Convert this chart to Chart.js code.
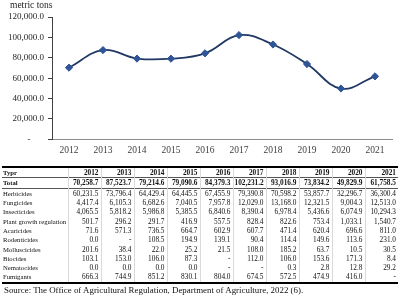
<!DOCTYPE html>
<html>
<head>
<meta charset="utf-8">
<script src="https://cdn.jsdelivr.net/npm/chart.js@4.4.1/dist/chart.umd.min.js"></script>
<style>
  body { margin: 0; width: 400px; height: 298px; background: #fff; position: relative; overflow: hidden; font-family: "Liberation Serif", "Times New Roman", serif; }
  #chartBox { position: absolute; left: 0; top: -20px; width: 400px; height: 180px; }
  #unit { position: absolute; left: 10px; top: 0; font-size: 9.5px; line-height: 11px; color: #262626; }
  #pesticides { position: absolute; left: 2px; top: 166px; width: 396px; border-collapse: collapse; table-layout: fixed; font-size: 7.3px; color: #111; }
  #pesticides td, #pesticides th { padding: 0 2px 0 1px; height: 9.3px; line-height: 9px; text-align: right; border-left: 1px solid #d9d9d9; white-space: nowrap; overflow: hidden; }
  #pesticides td:first-child, #pesticides th:first-child { text-align: left; border-left: none; font-size: 6.7px; }
  #pesticides thead tr { border-top: 2px solid #000; border-bottom: 1px solid #555; }
  #pesticides tr.total { font-weight: bold; border-bottom: 1px solid #555; }
  #pesticides tbody tr:last-child { border-bottom: 2.5px solid #000; }
  #source { position: absolute; left: 4px; top: 285px; font-size: 8.9px; line-height: 11px; color: #111; }
</style>
</head>
<body>
<div id="chartBox"><canvas id="lineChart"></canvas></div>
<div id="unit">metric tons</div>
<table id="pesticides">
  <colgroup><col style="width:66px"></colgroup>
  <thead><tr id="headRow"></tr></thead>
  <tbody id="bodyRows"></tbody>
</table>
<div id="source">Source: The Office of Agricultural Regulation, Department of Agriculture, 2022 (6).</div>

<script>
// data (metric tons), null = "-"
var years = ["2012", "2013", "2014", "2015", "2016", "2017", "2018", "2019", "2020", "2021"];
var total = [70258.7, 87523.7, 79214.6, 79090.6, 84379.3, 102231.2, 93016.9, 73834.2, 49829.9, 61758.5];
var herbicides = [60231.5, 73796.4, 64429.4, 64445.5, 67455.9, 79390.8, 70598.2, 53857.7, 32296.7, 36300.4];
var fungicides = [4417.4, 6105.3, 6682.6, 7040.5, 7957.8, 12029.0, 13168.0, 12321.5, 9004.3, 12513.0];
var insecticides = [4065.5, 5818.2, 5986.8, 5385.5, 6840.6, 8390.4, 6978.4, 5436.6, 6074.9, 10294.3];
var plantGrowth = [501.7, 296.2, 291.7, 416.9, 557.5, 828.4, 822.6, 753.4, 1033.1, 1540.7];
var acaricides = [71.6, 571.3, 736.5, 664.7, 602.9, 607.7, 471.4, 620.4, 696.6, 811.0];
var rodenticides = [0.0, null, 108.5, 194.9, 139.1, 90.4, 114.4, 149.6, 113.6, 231.0];
var molluscicides = [201.6, 38.4, 22.0, 25.2, 21.5, 108.0, 185.2, 63.7, 10.5, 30.5];
var biocides = [103.1, 153.0, 106.0, 87.3, null, 112.0, 106.0, 153.6, 171.3, 8.4];
var nematocides = [0.0, 0.0, 0.0, 0.0, null, null, 0.3, 2.8, 12.8, 29.2];
var fumigants = [666.3, 744.9, 851.2, 830.1, 804.0, 674.5, 572.5, 474.9, 416.0, null];
var yMax = 120000;
var yStep = 20000;

function fmt(v) {
  if (v == null) return "-";
  return v.toLocaleString("en-US", { minimumFractionDigits: 1, maximumFractionDigits: 1 });
}

// table
var rows = [
  ["Total", total],
  ["Herbicides", herbicides],
  ["Fungicides", fungicides],
  ["Insecticides", insecticides],
  ["Plant growth regulation", plantGrowth],
  ["Acaricides", acaricides],
  ["Rodenticides", rodenticides],
  ["Molluscicides", molluscicides],
  ["Biocides", biocides],
  ["Nematocides", nematocides],
  ["Fumigants", fumigants]
];

var head = "<th>Typr</th>";
years.forEach(y => head += `<th>${y}</th>`);
document.getElementById("headRow").innerHTML = head;

var body = "";
rows.forEach((r, i) => {
  body += `<tr${i == 0 ? ' class="total"' : ''}><td>${r[0]}</td>`;
  r[1].forEach(v => body += `<td>${fmt(v)}</td>`);
  body += "</tr>";
});
document.getElementById("bodyRows").innerHTML = body;

// chart (canvas starts 20px above the page so the plot keeps clear of the canvas edge)
var ctxL = document.getElementById("lineChart").getContext("2d");
var myLineChart = new Chart(ctxL, {
  type: "line",
  data: {
    labels: years,
    datasets: [{
      label: "Total",
      data: total,
      borderColor: "#1f3864",
      borderWidth: 1.8,
      tension: 0.4,
      pointStyle: "rectRot",
      pointRadius: 3.6,
      pointBackgroundColor: "#2f5597",
      pointBorderColor: "#2f5597",
      pointBorderWidth: 1
    }]
  },
  options: {
    responsive: true,
    maintainAspectRatio: false,
    animation: false,
    layout: { padding: { top: 37, right: 8, bottom: 0, left: 0 } },
    plugins: { legend: { display: false }, tooltip: { enabled: false } },
    scales: {
      x: {
        offset: true,
        grid: { display: false, drawTicks: false },
        border: { display: true, color: "#8c8c8c", width: 1 },
        ticks: { color: "#404040", padding: 5, maxRotation: 0, font: { family: "Liberation Serif", size: 9.5 } },
        afterFit: s => { s.height = 20.7; }
      },
      y: {
        min: 0,
        max: yMax,
        grid: { display: true, drawOnChartArea: false, drawTicks: true, tickLength: 4, color: "#404040" },
        border: { display: true, color: "#404040", width: 1 },
        ticks: {
          stepSize: yStep,
          color: "#262626",
          padding: 4,
          font: { family: "Liberation Serif", size: 9 },
          callback: v => v == 0 ? "-      " : fmt(v)
        },
        afterFit: s => { s.width = 52; }
      }
    }
  }
});
</script>
</body>
</html>
